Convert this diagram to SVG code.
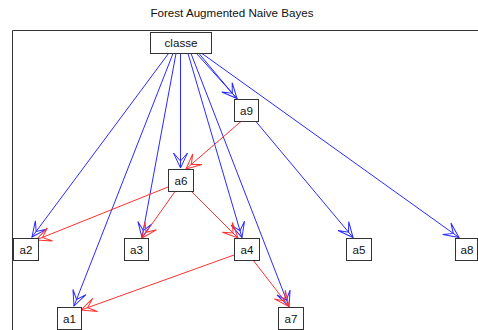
<svg xmlns="http://www.w3.org/2000/svg" width="478" height="330" viewBox="0 0 478 330">
<style>
.t{font-family:"Liberation Sans",Arial,sans-serif;font-size:11.6px;fill:#111;text-anchor:middle}
.n rect{fill:#fff;stroke:#333;stroke-width:1}
.b{stroke:#2a2aff;stroke-width:1;fill:none;marker-end:url(#ab)}
.r{stroke:#ff3030;stroke-width:1;fill:none;marker-end:url(#ar)}
</style>
<defs>
<marker id="ab" viewBox="-17 -8 19 16" refX="0" refY="0" markerWidth="19" markerHeight="16" markerUnits="userSpaceOnUse" orient="auto">
<path d="M0,0 L-15,-7 L-7,0 L-15,7 Z" fill="none" stroke="#2a2aff" stroke-width="1"/>
</marker>
<marker id="ar" viewBox="-17 -8 19 16" refX="0" refY="0" markerWidth="19" markerHeight="16" markerUnits="userSpaceOnUse" orient="auto">
<path d="M0,0 L-15,-7 L-7,0 L-15,7 Z" fill="none" stroke="#ff3030" stroke-width="1"/>
</marker>
</defs>
<rect width="478" height="330" fill="#fff"/>
<text class="t" x="232" y="17">Forest Augmented Naive Bayes</text>
<path d="M12.5,330 V30.5 H478" fill="none" stroke="#333" stroke-width="1"/>
<g id="connectors">
<line class="b" x1="168.5" y1="53.5" x2="32" y2="237"/>
<line class="b" x1="173" y1="53.5" x2="74" y2="306"/>
<line class="b" x1="176" y1="53.5" x2="142" y2="237.5"/>
<line class="b" x1="180.5" y1="53.5" x2="180.5" y2="168"/>
<line class="b" x1="188" y1="53.5" x2="242" y2="237.5"/>
<line class="b" x1="191" y1="53.5" x2="289" y2="306.5"/>
<line class="b" x1="196.5" y1="53.5" x2="237" y2="98.5"/>
<line class="b" x1="199" y1="53.5" x2="353" y2="237.5"/>
<line class="b" x1="202" y1="53.5" x2="459" y2="237.5"/>
<line class="r" x1="241.5" y1="121" x2="186" y2="169"/>
<line class="r" x1="168" y1="187" x2="36" y2="240"/>
<line class="r" x1="175" y1="191.5" x2="142" y2="238"/>
<line class="r" x1="191.5" y1="191.5" x2="238" y2="238"/>
<line class="r" x1="234" y1="255" x2="81" y2="310"/>
<line class="r" x1="253" y1="260" x2="289" y2="306.5"/>
</g>
<g id="classe" class="n"><rect x="150.5" y="32.5" width="61" height="21"/><text class="t" x="181" y="47.2">classe</text></g>
<g id="a9" class="n"><rect x="234.5" y="99.5" width="24" height="22"/><text class="t" x="246.5" y="114.7">a9</text></g>
<g id="a6" class="n"><rect x="168.5" y="169.5" width="25" height="22"/><text class="t" x="181" y="184.7">a6</text></g>
<g id="a2" class="n"><rect x="13.5" y="238.5" width="25" height="22"/><text class="t" x="26" y="253.7">a2</text></g>
<g id="a3" class="n"><rect x="124.5" y="238.5" width="24" height="22"/><text class="t" x="136.5" y="253.7">a3</text></g>
<g id="a4" class="n"><rect x="234.5" y="238.5" width="25" height="22"/><text class="t" x="247" y="253.7">a4</text></g>
<g id="a5" class="n"><rect x="346.5" y="238.5" width="25" height="22"/><text class="t" x="359" y="253.7">a5</text></g>
<g id="a8" class="n"><rect x="455.5" y="238.5" width="22" height="22"/><text class="t" x="467" y="253.7">a8</text></g>
<g id="a1" class="n"><rect x="57.5" y="307.5" width="24" height="22"/><text class="t" x="69.5" y="322.7">a1</text></g>
<g id="a7" class="n"><rect x="278.5" y="307.5" width="25" height="22"/><text class="t" x="291" y="322.7">a7</text></g>
</svg>
